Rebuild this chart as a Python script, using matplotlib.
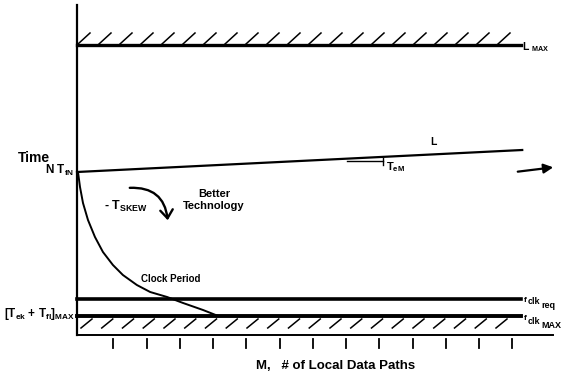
import numpy as np
import matplotlib
matplotlib.use("Agg")
import matplotlib.pyplot as plt
from matplotlib.patches import FancyArrowPatch

plt.rcParams['font.family'] = ['Liberation Sans', 'DejaVu Sans']
plt.rcParams['font.weight'] = 'bold'
plt.rcParams['mathtext.fontset'] = 'custom'
plt.rcParams['mathtext.rm'] = 'Liberation Sans:bold'
plt.rcParams['mathtext.it'] = 'Liberation Sans:bold'
plt.rcParams['mathtext.bf'] = 'Liberation Sans:bold'

# schematic values, x = M (number of local data paths), y = time (arbitrary units)
m_ticks = [1, 2, 3, 4, 5, 6, 7, 8, 9, 10, 11, 12, 13]
m_start = -0.09
m_end = 13.25
l_max = 29.0
l_line = [16.3, 18.5]          # latency at m_start and m_end
t_clk_req = 3.6
t_clk_max = 1.9
clock_m = [-0.06, 0.0, 0.09, 0.24, 0.45, 0.69, 0.99, 1.29, 1.71, 2.11, 2.62, 3.10, 3.70, 4.12]
clock_t = [16.3, 14.8, 13.2, 11.5, 9.8, 8.3, 7.0, 6.0, 5.0, 4.3, 3.8, 3.2, 2.5, 1.95]


def px(x, y):
    # pixel position in the reference -> data coordinates (for annotation placement)
    return (x - 80) / 33.25, (335 - y) / 10.0


fig = plt.figure(figsize=(5.63, 3.79), dpi=100)
ax = fig.add_axes([0, 0, 1, 1])
ax.set_xlim(px(0, 0)[0], px(563, 0)[0])
ax.set_ylim(px(0, 379)[1], px(0, 0)[1])
ax.axis("off")

k = "black"
# axes
ax.plot([m_start, m_start], [0, 33.0], c=k, lw=1.6)
ax.plot([m_start, 14.23], [0, 0], c=k, lw=1.4)
for m in m_ticks:
    ax.plot([m, m], [-0.4, -1.3], c=k, lw=1.3)

# L_MAX with hatching above
ax.plot([m_start, m_end], [l_max, l_max], c=k, lw=2.4)
for x0 in np.arange(78, 500, 21):
    (xa, ya), (xb, yb) = px(x0, 44), px(x0 + 12, 33)
    ax.plot([xa, xb], [ya, yb], c=k, lw=1.1)

# L line and slope marker
ax.plot([m_start, m_end + 0.05], l_line, c=k, lw=1.6)
(xa, ya), (xb, yb) = px(347, 161), px(383, 161)
ax.plot([xa, xb], [ya, yb], c=k, lw=1.0)
(xa, ya), (xb, yb) = px(383, 158), px(383, 165)
ax.plot([xa, xb], [ya, yb], c=k, lw=1.0)

# clock limits with hatching below
ax.plot([m_start, m_end], [t_clk_req, t_clk_req], c=k, lw=2.6)
ax.plot([m_start, m_end], [t_clk_max, t_clk_max], c=k, lw=2.8)
for x0 in np.arange(81, 500, 20.75):
    (xa, ya), (xb, yb) = px(x0, 328), px(x0 + 11, 319)
    ax.plot([xa, xb], [ya, yb], c=k, lw=1.1)

# clock period curve
ax.plot(clock_m, clock_t, c=k, lw=1.4)

# arrows
ax.annotate("", xy=px(556, 167), xytext=px(515, 172),
            arrowprops=dict(arrowstyle="-|>", color=k, lw=1.6, mutation_scale=14))
arc = FancyArrowPatch(px(127, 188), px(168, 223), connectionstyle="arc3,rad=-0.5",
                      arrowstyle="->,head_length=6,head_width=4.5", color=k, lw=1.7)
ax.add_patch(arc)

# labels
ax.text(*px(522, 47), r"L $_{\mathrm{MAX}}$", fontsize=7.5, va="center", ha="left")
ax.text(*px(18, 158), "Time", fontsize=10, va="center", ha="left")
ax.text(*px(74, 170), r"N T$_{\mathrm{fN}}$", fontsize=8.5, va="center", ha="right")
ax.text(*px(430, 142), "L", fontsize=7.5, va="center", ha="left")
ax.text(*px(386, 167), r"T$_{\mathrm{eM}}$", fontsize=8, va="center", ha="left")
ax.text(*px(104, 206), r"- T$_{\mathrm{SKEW}}$", fontsize=9, va="center", ha="left")
ax.text(*px(214, 200), "Better\nTechnology", fontsize=8, va="center", ha="center",
        linespacing=1.3)
ax.text(*px(141, 279), "Clock Period", fontsize=7, va="center", ha="left")
ax.text(*px(75, 314), r"[T$_{\mathrm{ek}}$ + T$_{\mathrm{fl}}$]$_{\mathrm{MAX}}$",
        fontsize=8.5, va="center", ha="right")

# f_clk labels with double subscripts, drawn piece by piece
for base_y, sub in [(301, "req"), (320, "MAX")]:
    ax.text(*px(524, base_y - 1), "f", fontsize=6, va="center", ha="left")
    ax.text(*px(528, base_y + 1), "clk", fontsize=6.5, va="center", ha="left")
    ax.text(*px(541, base_y + 5), sub, fontsize=6.5, va="center", ha="left")

ax.text(*px(336, 366), "M,   # of Local Data Paths", fontsize=9.5, va="center", ha="center")

fig.savefig("out.png", dpi=100)
